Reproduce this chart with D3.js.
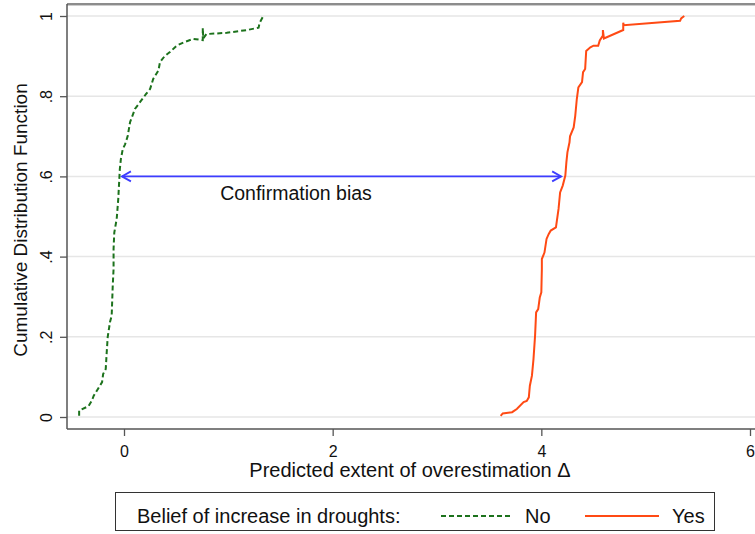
<!DOCTYPE html>
<html><head><meta charset="utf-8">
<script src="https://cdn.jsdelivr.net/npm/d3@7"></script>
<style>body{margin:0;background:#fff}svg{display:block;font-family:"Liberation Sans",Arial,sans-serif}</style>
</head><body><svg id="c" width="755" height="534"></svg>
<script>
// Data
const noX = [-0.43,-0.43,-0.34,-0.31,-0.29,-0.25,-0.21,-0.20,-0.175,-0.166,-0.156,-0.134,-0.118,-0.108,-0.10,-0.10,-0.093,-0.07,-0.055,-0.04,-0.03,-0.012,0.01,0.035,0.058,0.105,0.153,0.21,0.25,0.28,0.33,0.345,0.39,0.44,0.505,0.57,0.665,0.755,0.755,0.76,0.79,0.985,1.18,1.29,1.30,1.335];
const noY = [0.003,0.016,0.027,0.04,0.053,0.07,0.087,0.107,0.12,0.16,0.2,0.237,0.253,0.327,0.369,0.419,0.46,0.494,0.544,0.618,0.643,0.668,0.68,0.70,0.735,0.768,0.785,0.805,0.818,0.843,0.864,0.885,0.90,0.91,0.926,0.934,0.943,0.94,0.97,0.944,0.955,0.958,0.965,0.971,0.983,1.0];
const yesX = [3.61,3.63,3.72,3.765,3.83,3.86,3.88,3.89,3.91,3.925,3.94,3.95,3.97,3.985,4.0,4.005,4.005,4.03,4.05,4.07,4.09,4.14,4.165,4.18,4.205,4.23,4.24,4.25,4.27,4.275,4.31,4.325,4.34,4.355,4.39,4.40,4.42,4.43,4.47,4.50,4.545,4.56,4.59,4.59,4.60,4.785,4.785,4.79,5.33,5.34,5.37];
const yesY = [0.003,0.009,0.012,0.02,0.037,0.04,0.049,0.078,0.103,0.145,0.203,0.261,0.269,0.298,0.311,0.369,0.394,0.41,0.444,0.456,0.465,0.473,0.519,0.56,0.577,0.602,0.635,0.66,0.685,0.70,0.722,0.751,0.793,0.822,0.835,0.86,0.868,0.913,0.922,0.926,0.926,0.939,0.951,0.965,0.944,0.965,0.983,0.977,0.988,0.994,1.0];
const xTicks = [0,2,4,6];
const yTicks = [0,0.2,0.4,0.6,0.8,1];
const yTickLabels = ["0",".2",".4",".6",".8","1"];
const arrowFrom = -0.02, arrowTo = 4.19, arrowLevel = 0.6;
const annotation = "Confirmation bias";
const xTitle = "Predicted extent of overestimation \u0394";
const yTitle = "Cumulative Distribution Function";
const legendTitle = "Belief of increase in droughts:";
const seriesNames = ["No","Yes"];
const colors = {No:"#1c721c", Yes:"#ff4a14", arrow:"#3d3dff"};

const svg = d3.select("#c");
const x = d3.scaleLinear().domain([0,6]).range([124,750]);
const y = d3.scaleLinear().domain([0,1]).range([417,16]);
const pLeft = 67, pTop = 4, pBottom = 429, pRight = 755;

// gridlines
svg.append("g").selectAll("line").data(yTicks).join("line")
  .attr("x1",pLeft).attr("x2",pRight).attr("y1",d=>y(d)).attr("y2",d=>y(d))
  .attr("stroke","#e6e6e6").attr("stroke-width",1.5);

// frame lines
svg.append("line").attr("x1",pLeft).attr("x2",pRight).attr("y1",pTop).attr("y2",pTop).attr("stroke","#666").attr("stroke-width",1.5);
svg.append("line").attr("x1",pLeft).attr("x2",pRight).attr("y1",pTop+1.5).attr("y2",pTop+1.5).attr("stroke","#ccc").attr("stroke-width",1);
svg.append("line").attr("x1",pLeft).attr("x2",pLeft).attr("y1",pTop).attr("y2",pBottom).attr("stroke","#555").attr("stroke-width",1.5);
svg.append("line").attr("x1",pLeft).attr("x2",pRight).attr("y1",pBottom).attr("y2",pBottom).attr("stroke","#555").attr("stroke-width",1.5);

// y axis
const ya = svg.append("g").attr("transform",`translate(${pLeft},0)`)
  .call(d3.axisLeft(y).tickValues(yTicks).tickSize(7).tickPadding(0).tickFormat((d,i)=>yTickLabels[i]));
ya.select(".domain").remove();
ya.selectAll(".tick line").attr("stroke","#555").attr("stroke-width",1.3);
ya.selectAll(".tick text").attr("transform","translate(-21,0) rotate(-90)").attr("x",0).attr("dy","0.35em")
  .attr("text-anchor","middle").style("font-size","16px").style("font-family","Liberation Sans, Arial, sans-serif").attr("fill","#111");

// x axis
const xa = svg.append("g").attr("transform",`translate(0,${pBottom})`)
  .call(d3.axisBottom(x).tickValues(xTicks).tickSize(7).tickPadding(10).tickFormat(d3.format("d")));
xa.select(".domain").remove();
xa.selectAll(".tick line").attr("stroke","#555").attr("stroke-width",1.3);
xa.selectAll(".tick text").style("font-size","16px").style("font-family","Liberation Sans, Arial, sans-serif").attr("fill","#111");

// titles
svg.append("text").attr("x",410).attr("y",477).attr("text-anchor","middle").style("font-size","20px").attr("fill","#111").text(xTitle);
svg.append("text").attr("transform","translate(27,220) rotate(-90)").attr("text-anchor","middle").style("font-size","19px").attr("fill","#111").text(yTitle);

// lines
const line = d3.line().x(d=>x(d[0])).y(d=>y(d[1]));
svg.append("path").datum(noX.map((v,i)=>[v,noY[i]])).attr("d",line).attr("fill","none")
  .attr("stroke",colors.No).attr("stroke-width",2).attr("stroke-dasharray","5,3");
svg.append("path").datum(yesX.map((v,i)=>[v,yesY[i]])).attr("d",line).attr("fill","none")
  .attr("stroke",colors.Yes).attr("stroke-width",2);

// arrow
const ay = y(arrowLevel), ax1 = x(arrowFrom), ax2 = x(arrowTo);
const ag = svg.append("g").attr("stroke",colors.arrow).attr("stroke-width",1.8).attr("fill","none");
ag.append("line").attr("x1",ax1).attr("x2",ax2).attr("y1",ay).attr("y2",ay);
ag.append("path").attr("d",`M${ax1+9},${ay-5} L${ax1},${ay} L${ax1+9},${ay+5}`);
ag.append("path").attr("d",`M${ax2-9},${ay-5} L${ax2},${ay} L${ax2-9},${ay+5}`);
svg.append("text").attr("x",296).attr("y",200).attr("text-anchor","middle").style("font-size","19.5px").attr("fill","#111").text(annotation);

// legend
svg.append("rect").attr("x",115.5).attr("y",492.5).attr("width",599).attr("height",38).attr("fill","#fff").attr("stroke","#333").attr("stroke-width",1);
svg.append("text").attr("x",137).attr("y",523).style("font-size","20px").attr("fill","#111").text(legendTitle);
svg.append("line").attr("x1",441).attr("x2",513).attr("y1",516).attr("y2",516).attr("stroke",colors.No).attr("stroke-width",2).attr("stroke-dasharray","5,3");
svg.append("text").attr("x",525).attr("y",523).style("font-size","20px").attr("fill","#111").text(seriesNames[0]);
svg.append("line").attr("x1",585).attr("x2",659).attr("y1",516).attr("y2",516).attr("stroke",colors.Yes).attr("stroke-width",2);
svg.append("text").attr("x",672).attr("y",523).style("font-size","20px").attr("fill","#111").text(seriesNames[1]);
</script></body></html>
